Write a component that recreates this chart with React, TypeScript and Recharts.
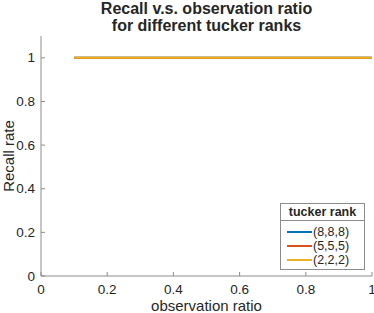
import React from "react";
import { LineChart, Line, XAxis, YAxis } from "recharts";

const ratios = [0.1, 0.2, 0.3, 0.4, 0.5, 0.6, 0.7, 0.8, 0.9, 1.0];
const recall888 = [1, 1, 1, 1, 1, 1, 1, 1, 1, 1];
const recall555 = [1, 1, 1, 1, 1, 1, 1, 1, 1, 1];
const recall222 = [1, 1, 1, 1, 1, 1, 1, 1, 1, 1];
const xTicks = [0, 0.2, 0.4, 0.6, 0.8, 1];
const yTicks = [0, 0.2, 0.4, 0.6, 0.8, 1];

const series = [
  { key: "r888", label: "(8,8,8)", color: "#0072BD" },
  { key: "r555", label: "(5,5,5)", color: "#D95319" },
  { key: "r222", label: "(2,2,2)", color: "#EDB120" },
];

const data = ratios.map((x, i) => ({
  x,
  r888: recall888[i],
  r555: recall555[i],
  r222: recall222[i],
}));

const W = 374;
const H = 313;
const PL = 41;
const PR = 372;
const PT = 36;
const PB = 276;
const AXIS = "#8c8c8c";
const INK = "#262626";
const FONT = "'Liberation Sans', Arial, Helvetica, sans-serif";
const fmt = (v: number) => String(+v.toFixed(1));

const BottomTick = (p: any) => (
  <g>
    <line x1={p.x} x2={p.x} y1={PB} y2={PB - 4} stroke={AXIS} />
    <text x={p.x} y={289} textAnchor="middle" dominantBaseline="central" fontSize={13.5} fill={INK} fontFamily={FONT}>
      {fmt(p.payload.value)}
    </text>
  </g>
);
const TopTick = (p: any) => <line x1={p.x} x2={p.x} y1={PT} y2={PT + 4} stroke={AXIS} />;
const LeftTick = (p: any) => (
  <g>
    <line x1={PL} x2={PL + 4} y1={p.y} y2={p.y} stroke={AXIS} />
    <text x={35} y={p.y} textAnchor="end" dominantBaseline="central" fontSize={13.5} fill={INK} fontFamily={FONT}>
      {fmt(p.payload.value)}
    </text>
  </g>
);
const RightTick = (p: any) => <line x1={PR} x2={PR - 4} y1={p.y} y2={p.y} stroke={AXIS} />;

function LegendBox() {
  return (
    <div
      style={{
        position: "absolute",
        left: 280,
        top: 203,
        border: `1px solid ${AXIS}`,
        background: "#fff",
        width: 85,
        height: 67,
        fontFamily: FONT,
        color: INK,
        fontSize: 12.5,
        boxSizing: "border-box",
      }}
    >
      <div style={{ fontWeight: "bold", textAlign: "center", height: 16, lineHeight: "16px", borderBottom: `1px solid ${AXIS}` }}>
        tucker rank
      </div>
      <div style={{ padding: "4px 0 0 6px" }}>
        {series.map((s) => (
          <div key={s.key} style={{ display: "flex", alignItems: "center", height: 14 }}>
            <div style={{ width: 25, height: 2, background: s.color, marginRight: 1 }} />
            <span>{s.label}</span>
          </div>
        ))}
      </div>
    </div>
  );
}

export default function App() {
  return (
    <div style={{ position: "absolute", left: 0, top: 0, width: W, height: H, background: "#fff", fontFamily: FONT, overflow: "hidden" }}>
      <div
        style={{
          position: "absolute",
          left: PL,
          width: PR - PL,
          top: 0,
          textAlign: "center",
          fontWeight: "bold",
          fontSize: 16,
          lineHeight: "17px",
          color: INK,
        }}
      >
        Recall v.s. observation ratio
        <br />
        for different tucker ranks
      </div>
      <LineChart width={W} height={H} data={data} margin={{ top: PT, right: W - PR, bottom: 0, left: 0 }}>
        <XAxis
          xAxisId="b"
          dataKey="x"
          type="number"
          domain={[0, 1]}
          ticks={xTicks}
          height={H - PB}
          tickLine={false}
          tickSize={0}
          stroke={AXIS}
          tick={<BottomTick />}
          interval={0}
        />
        <XAxis xAxisId="t" orientation="top" dataKey="x" type="number" domain={[0, 1]} ticks={xTicks} height={0} tickLine={false} tickSize={0} stroke={AXIS} tick={<TopTick />} interval={0} />
        <YAxis yAxisId="l" type="number" domain={[0, 1.1]} ticks={yTicks} width={PL} tickLine={false} tickSize={0} stroke={AXIS} tick={<LeftTick />} interval={0} />
        <YAxis yAxisId="r" orientation="right" type="number" domain={[0, 1.1]} ticks={yTicks} width={0} tickLine={false} tickSize={0} stroke={AXIS} tick={<RightTick />} interval={0} />
        {series.map((s) => (
          <Line
            key={s.key}
            xAxisId="b"
            yAxisId="l"
            dataKey={s.key}
            stroke={s.color}
            strokeWidth={2}
            dot={false}
            isAnimationActive={false}
          />
        ))}
      </LineChart>
      <LegendBox />
      <div style={{ position: "absolute", left: PL, width: PR - PL, top: 298, lineHeight: "15px", textAlign: "center", fontSize: 15, color: INK }}>
        observation ratio
      </div>
      <div
        style={{
          position: "absolute",
          left: 8,
          top: (PT + PB) / 2,
          lineHeight: "15px",
          transform: "translate(-50%, -50%) rotate(-90deg)",
          fontSize: 15,
          color: INK,
          whiteSpace: "nowrap",
        }}
      >
        Recall rate
      </div>
    </div>
  );
}
